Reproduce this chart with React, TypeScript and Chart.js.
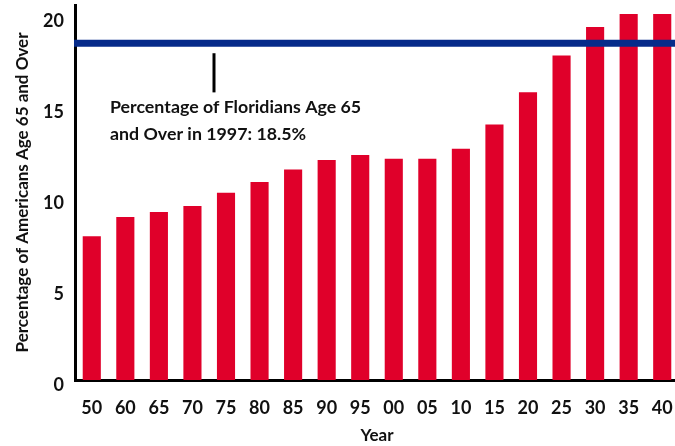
import React, { useEffect, useRef } from "react";
import { Chart, registerables } from "chart.js";

Chart.register(...registerables);

const years = ["50", "60", "65", "70", "75", "80", "85", "90", "95", "00", "05", "10", "15", "20", "25", "30", "35", "40"];
const percentOver65 = [7.9, 8.95, 9.23, 9.56, 10.28, 10.88, 11.56, 12.09, 12.36, 12.16, 12.16, 12.7, 14.03, 15.81, 17.83, 19.39, 20.1, 20.1];
const floridaValue = 18.5;
const annotationLines = ["Percentage of Floridians Age 65", "and Over in 1997: 18.5%"];
const yTitle = "Percentage of Americans Age 65 and Over";
const xTitle = "Year";

const FONT = "Lato, 'Open Sans', sans-serif";
const RED = "#e0002a";
const BLUE = "#062b8a";

const refPlugin = {
  id: "floridaRef",
  afterDatasetsDraw(chart: any) {
    const { ctx, chartArea, scales } = chart;
    const y = scales.y.getPixelForValue(floridaValue);
    ctx.save();
    ctx.strokeStyle = BLUE;
    ctx.lineWidth = 7;
    ctx.beginPath();
    ctx.moveTo(chartArea.left - 1, y);
    ctx.lineTo(chartArea.right, y);
    ctx.stroke();
    // pointer tick
    const tx = chartArea.left + 139;
    ctx.strokeStyle = "#000";
    ctx.lineWidth = 3;
    ctx.beginPath();
    ctx.moveTo(tx, y + 10);
    ctx.lineTo(tx, scales.y.getPixelForValue(15.8));
    ctx.stroke();
    ctx.fillStyle = "#111";
    ctx.font = `bold 17.8px ${FONT}`;
    ctx.textBaseline = "middle";
    ctx.textAlign = "left";
    const x0 = chartArea.left + 35;
    ctx.fillText(annotationLines[0], x0, scales.y.getPixelForValue(15.0));
    ctx.fillText(annotationLines[1], x0, scales.y.getPixelForValue(13.5));
    ctx.restore();
  },
};

export default function App() {
  const ref = useRef<HTMLCanvasElement>(null);
  useEffect(() => {
    if (!ref.current) return;
    const chart = new Chart(ref.current, {
      type: "bar",
      data: {
        labels: years,
        datasets: [
          {
            data: percentOver65,
            backgroundColor: RED,
            borderWidth: 0,
            categoryPercentage: 1,
            barPercentage: 0.54,
          },
        ],
      },
      options: {
        animation: false,
        responsive: true,
        maintainAspectRatio: false,
        layout: { padding: { left: 0, right: 0, top: 5, bottom: 0 } },
        plugins: { legend: { display: false }, tooltip: { enabled: false } },
        scales: {
          x: {
            grid: { display: false, drawTicks: false },
            border: { display: true, color: "#000", width: 3 },
            ticks: {
              color: "#111",
              font: { family: FONT, size: 18, weight: "bold" },
              padding: 17,
              maxRotation: 0,
              autoSkip: false,
            },
            title: {
              display: true,
              text: xTitle,
              color: "#111",
              font: { family: FONT, size: 17, weight: "bold" },
              padding: { top: 0, bottom: 0 },
            },
            afterFit(scale: any) {
              scale.height = 66;
              scale.paddingLeft = 0;
              scale.paddingRight = 0;
            },
          },
          y: {
            min: 0,
            max: 20.6,
            grid: { display: false, drawTicks: false },
            border: { display: true, color: "#000", width: 3 },
            ticks: {
              stepSize: 5,
              includeBounds: false,
              color: "#111",
              font: { family: FONT, size: 18, weight: "bold" },
              padding: 11,
              labelOffset: 5,
            },
            title: {
              display: true,
              text: yTitle,
              color: "#111",
              font: { family: FONT, size: 17, weight: "bold" },
              padding: { top: 12, bottom: 0 },
            },
            afterFit(scale: any) {
              scale.width = 75;
              scale.paddingTop = 0;
              scale.paddingBottom = 0;
            },
          },
        },
      },
      plugins: [refPlugin],
    });
    return () => chart.destroy();
  }, []);
  return (
    <div style={{ position: "fixed", left: 0, top: 0, width: 679, height: 446, background: "#fff" }}>
      <canvas ref={ref} />
    </div>
  );
}
